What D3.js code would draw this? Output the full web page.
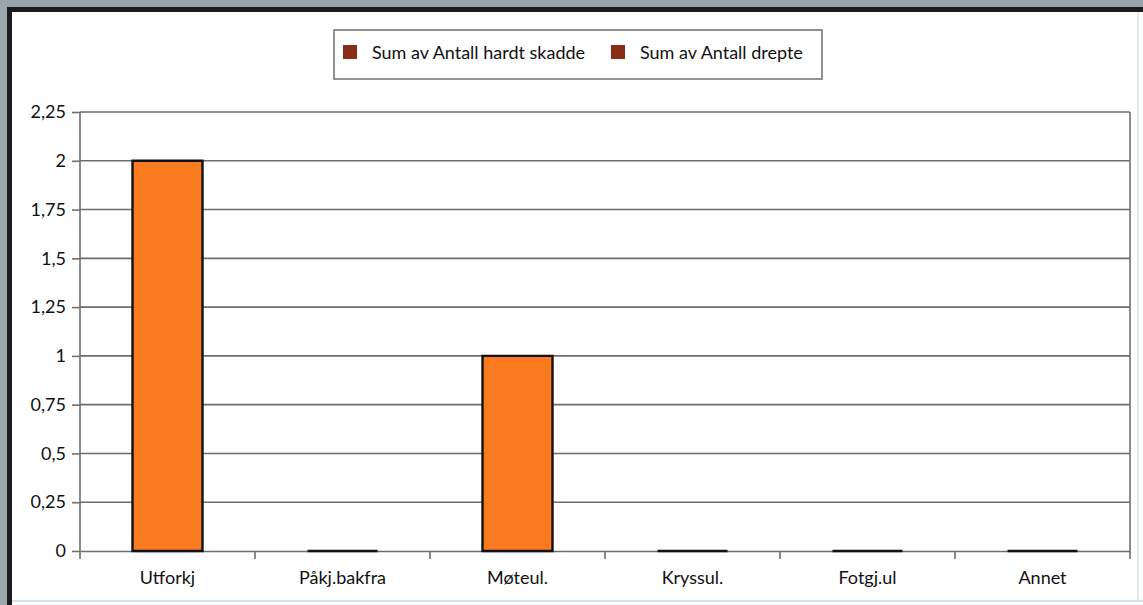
<!DOCTYPE html>
<html>
<head>
<meta charset="utf-8">
<script src="https://cdn.jsdelivr.net/npm/d3@7"></script>
<style>
  body { margin: 0; background: #fff; }
  text { font-family: Lato, "Open Sans", sans-serif; fill: #111; }
</style>
</head>
<body>
<div id="chart"></div>
<script>
// data
var categories = ["Utforkj", "Påkj.bakfra", "Møteul.", "Kryssul.", "Fotgj.ul", "Annet"];
var hardtSkadde = [2, 0, 1, 0, 0, 0];
var drepte = [0, 0, 0, 0, 0, 0];
var seriesNames = ["Sum av Antall hardt skadde", "Sum av Antall drepte"];
var yTicks = [0, 0.25, 0.5, 0.75, 1, 1.25, 1.5, 1.75, 2, 2.25];

var width = 1143, height = 605;
var m = { left: 80, right: 1130, top: 112, bottom: 551 };
var fs = 18;

var svg = d3.select("#chart").append("svg")
  .attr("width", width).attr("height", height);

// frame (scanned window edge)
svg.append("rect").attr("x", 0).attr("y", 0).attr("width", width).attr("height", 7).attr("fill", "#97a6ae");
svg.append("rect").attr("x", 0).attr("y", 7).attr("width", width).attr("height", 5).attr("fill", "#1b1b1b");
svg.append("rect").attr("x", 0).attr("y", 0).attr("width", 7).attr("height", height).attr("fill", "#9aa7ad");
svg.append("rect").attr("x", 7).attr("y", 7).attr("width", 5).attr("height", height).attr("fill", "#1b1b1b");
svg.append("line").attr("x1", 12).attr("x2", width).attr("y1", 601).attr("y2", 601)
  .attr("stroke", "#cfe3ee").attr("stroke-width", 2);
svg.append("line").attr("x1", 1138).attr("x2", 1138).attr("y1", 12).attr("y2", 601)
  .attr("stroke", "#dfe8ec").attr("stroke-width", 2);

var x = d3.scaleBand().domain(categories).range([m.left, m.right]).paddingInner(0).paddingOuter(0);
var y = d3.scaleLinear().domain([0, 2.25]).range([m.bottom, m.top]);
var fmt = function (d) { return String(d).replace(".", ","); };
var gridCol = "#6e6e6e";

// gridlines
svg.append("g").selectAll("line").data(yTicks.slice(1)).enter().append("line")
  .attr("x1", m.left).attr("x2", m.right)
  .attr("y1", function (d) { return y(d); }).attr("y2", function (d) { return y(d); })
  .attr("stroke", gridCol).attr("stroke-width", 1.6);
svg.append("line").attr("x1", m.right).attr("x2", m.right).attr("y1", m.top).attr("y2", m.bottom + 8)
  .attr("stroke", gridCol).attr("stroke-width", 1.6);

// y axis
var yAxis = svg.append("g").attr("transform", "translate(" + m.left + ",0)")
  .call(d3.axisLeft(y).tickValues(yTicks).tickFormat(fmt).tickSize(8).tickPadding(6));
yAxis.select(".domain").attr("stroke", gridCol).attr("stroke-width", 1.6)
  .attr("d", "M0," + m.top + "V" + (m.bottom + 8));
yAxis.selectAll(".tick line").attr("stroke", gridCol).attr("stroke-width", 1.6);
yAxis.selectAll("text").attr("font-size", fs).attr("fill", "#111")
  .style("font-family", "Lato, 'Open Sans', sans-serif");

// x axis
var xAxis = svg.append("g").attr("transform", "translate(0," + m.bottom + ")")
  .call(d3.axisBottom(x).tickSize(0).tickPadding(20));
xAxis.select(".domain").attr("stroke", gridCol).attr("stroke-width", 1.6);
xAxis.selectAll("text").attr("font-size", fs).attr("fill", "#111")
  .style("font-family", "Lato, 'Open Sans', sans-serif");
svg.append("g").selectAll("line").data(categories.slice(1)).enter().append("line")
  .attr("x1", function (d) { return x(d); }).attr("x2", function (d) { return x(d); })
  .attr("y1", m.bottom).attr("y2", m.bottom + 8)
  .attr("stroke", gridCol).attr("stroke-width", 1.6);

// bars (drawn as paths so zero values still show as a flat outline)
var barW = x.bandwidth() * 0.4;
var stacked = categories.map(function (c, i) { return { c: c, v: hardtSkadde[i] + drepte[i] }; });
svg.append("g").selectAll("path").data(stacked).enter().append("path")
  .attr("d", function (d) {
    var x0 = x(d.c) + (x.bandwidth() - barW) / 2, x1 = x0 + barW;
    return "M" + x0 + "," + y(0) + "V" + y(d.v) + "H" + x1 + "V" + y(0) + "Z";
  })
  .attr("fill", "#f97a1f")
  .attr("stroke", "#111").attr("stroke-width", 2.4);

// legend
var lg = svg.append("g");
lg.append("rect").attr("x", 334).attr("y", 30).attr("width", 488).attr("height", 49)
  .attr("fill", "#fff").attr("stroke", "#6f6f6f").attr("stroke-width", 1.5);
var legendX = [343, 611];
seriesNames.forEach(function (s, i) {
  lg.append("rect").attr("x", legendX[i]).attr("y", 45).attr("width", 14).attr("height", 14)
    .attr("fill", "#8a2d16");
  lg.append("text").attr("x", legendX[i] + 29).attr("y", 59).attr("font-size", fs).text(s);
});
</script>
</body>
</html>
